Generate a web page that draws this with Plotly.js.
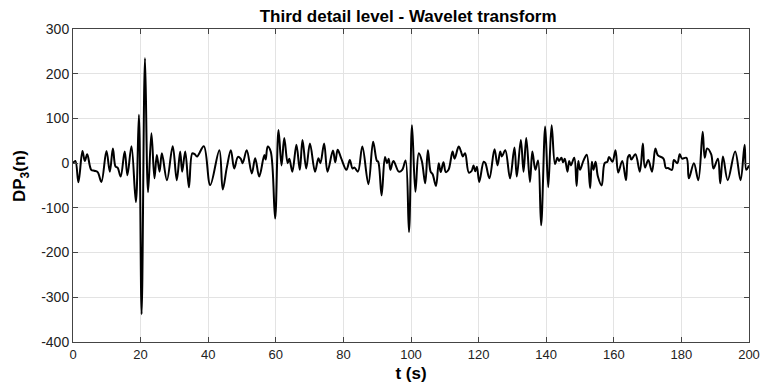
<!DOCTYPE html>
<html>
<head>
<meta charset="utf-8">
<script src="https://cdn.plot.ly/plotly-3.0.1.min.js"></script>
<style>html,body{margin:0;padding:0;background:#fff;}#chart{width:760px;height:388px;}</style>
</head>
<body>
<div id="chart"></div>
<script>
// time (s) of signal turning points
const timeS = [0,0.7,1.6,2.8,3.5,4.2,5.4,6.3,7.3,8.4,9.9,10.9,11.8,12.6,13.2,14.1,15.3,16.1,17.3,18.6,19.5,20.3,21.3,22.2,23.2,24.1,24.8,25.6,26.3,27.8,29.5,30.7,31.7,32.3,33.2,34.3,35.3,36.0,36.7,38.7,40.6,43.3,44.3,45.5,46.7,47.7,48.8,49.6,50.2,51.4,52.9,53.9,55.1,56.6,57.0,57.6,58.5,59.8,60.8,61.7,62.5,63.5,64.0,64.9,66.1,67.1,67.9,69.0,70.1,71.6,72.6,73.2,74.3,75.3,76.9,77.6,78.3,79.3,80.9,81.9,82.7,83.3,84.3,85.6,87.4,88.8,89.9,90.3,91.3,92.3,92.9,93.4,93.9,94.8,96.4,97.4,98.4,99.4,100.3,101.3,102.3,103.2,104.2,105.0,105.8,106.4,107.4,108.2,108.8,109.6,110.3,111.1,112.3,112.9,114.1,114.8,115.3,116.0,117.1,117.9,118.5,119.0,119.5,120.2,121.5,122.0,123.2,124.7,125.6,126.4,126.9,127.9,129.3,130.6,131.3,132.5,133.3,134.1,135.2,135.9,136.8,137.6,138.5,139.7,140.6,141.6,142.6,143.3,143.8,144.5,145.0,145.5,146.3,146.8,147.3,148.3,149.0,149.5,150.0,151.0,152.0,153.0,153.5,154.0,154.6,155.3,156.4,157.3,158.1,158.6,159.6,160.5,161.3,162.5,163.6,164.2,164.7,165.2,166.4,167.7,168.6,169.2,170.2,171.3,172.3,173.0,174.7,175.4,176.0,177.2,177.8,178.8,179.5,180.2,181.5,182.2,183.7,185.0,186.3,186.9,187.6,188.8,189.5,190.8,191.5,192.3,193.7,195.9,197.5,198.7,199.2,200];
// DP3(n) values at those points
const dp3 = [0,5,-43,27,5,20,-15,-17,-20,-42,27,-19,33,-8,-10,-30,26,-27,38,-87,108,-338,235,-65,67,-34,18,-19,22,-38,38,-38,26,-19,26,-54,22,20,15,38,-49,29,-59,-10,29,-12,14,10,0,29,-23,11,-30,18,8,37,26,-124,74,-5,56,0,10,-19,41,-15,52,-12,44,-19,11,0,44,-19,28,2,30,12,-15,7,-12,-10,-19,37,-47,48,5,3,-72,14,0,10,-15,5,-19,-15,6,-154,85,-64,22,5,-45,29,-19,-25,-51,0,-20,2,-20,-15,26,10,37,26,15,22,-21,-18,-5,-18,-8,-42,3,0,-34,31,-5,26,15,29,-34,35,-30,52,-19,56,-42,26,-15,6,-139,82,-54,85,-2,12,5,12,2,10,-19,5,-5,12,-51,5,-15,5,19,-56,3,-15,3,-30,-50,0,3,14,3,29,-21,5,-38,14,18,8,20,-19,44,-10,7,-19,33,18,10,-11,-11,-15,7,0,20,10,12,-34,0,-38,70,12,33,20,-12,10,-45,15,-38,26,-38,41,-15,-5,-10];
const xTicks = [0,20,40,60,80,100,120,140,160,180,200];
const yTicks = [-400,-300,-200,-100,0,100,200,300];

const trace = {
  x: timeS, y: dp3,
  type: 'scatter', mode: 'lines',
  line: {color: '#000000', width: 2, shape: 'spline', smoothing: 1},
  hoverinfo: 'skip'
};
const FONT = 'Arial, Liberation Sans, sans-serif';
const axisCommon = {
  showgrid: true, gridcolor: '#e3e3e3', gridwidth: 1,
  showline: true, linecolor: '#444444', linewidth: 1, mirror: 'ticks',
  ticks: 'inside', ticklen: 5, tickcolor: '#444444',
  zeroline: false, ticklabeloverflow: 'allow'
};
const layout = {
  width: 760, height: 388,
  margin: {l: 73, r: 11, t: 29, b: 46},
  paper_bgcolor: '#ffffff', plot_bgcolor: '#ffffff',
  showlegend: false,
  title: {text: 'Third detail level - Wavelet transform', font: {family: FONT, size: 17, color: '#000', weight: 'bold'},
          x: 0.537, xref: 'container', xanchor: 'center', y: 0.958, yref: 'container', yanchor: 'middle'},
  xaxis: Object.assign({}, axisCommon, {range: [0,200], tickvals: xTicks, ticktext: xTicks.map(String),
          tickfont: {family: FONT, size: 13, color: '#222222'},
          title: {text: 't (s)', font: {family: FONT, size: 17, color: '#000', weight: 'bold'}, standoff: 6}}),
  yaxis: Object.assign({}, axisCommon, {range: [-400,300], tickvals: yTicks, ticktext: yTicks.map(String),
          tickfont: {family: FONT, size: 14, color: '#222222'}}),
  annotations: [{
    text: 'DP<sub>3</sub>(n)', textangle: -90, showarrow: false,
    xref: 'paper', yref: 'paper', x: -52/676, y: (342-176)/313, xanchor: 'center', yanchor: 'middle',
    font: {family: FONT, size: 17, color: '#000', weight: 'bold'}
  }]
};
Plotly.newPlot('chart', [trace], layout, {staticPlot: true, displayModeBar: false});
</script>
</body>
</html>
